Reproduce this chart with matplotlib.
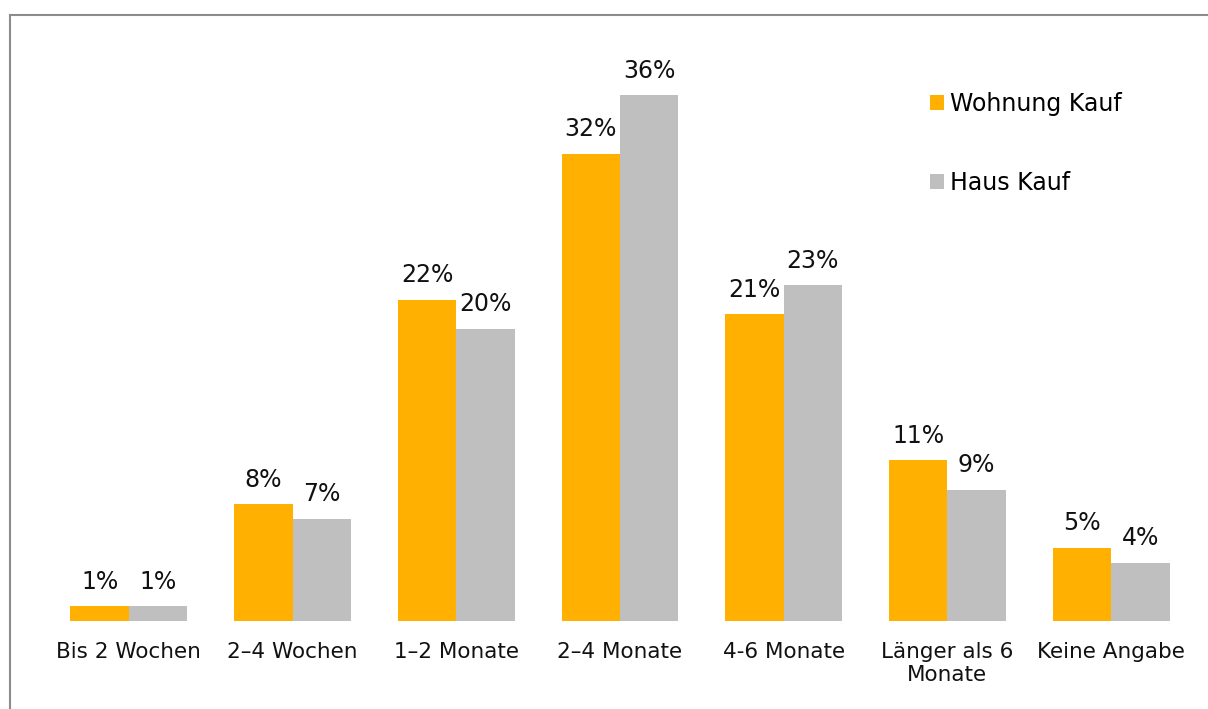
import matplotlib.pyplot as plt
import numpy as np
from matplotlib.patches import Patch
from matplotlib.lines import Line2D

categories = ["Bis 2 Wochen", "2\u20134 Wochen", "1\u20132 Monate", "2\u20134 Monate",
              "4-6 Monate", "L\u00e4nger als 6\nMonate", "Keine Angabe"]
wohnung_kauf = [1, 8, 22, 32, 21, 11, 5]
haus_kauf = [1, 7, 20, 36, 23, 9, 4]
series_names = ["Wohnung Kauf", "Haus Kauf"]

ORANGE = "#FFB000"
GRAY = "#BFBFBF"
FONT = "DejaVu Sans"

fig = plt.figure(figsize=(12.08, 7.09), dpi=100)
W, H = 1208, 709
ax = fig.add_axes([47 / W, (H - 621) / H, 1146 / W, 584 / H])

x = np.arange(len(categories))
bw = 0.357
b1 = ax.bar(x - bw / 2, wohnung_kauf, bw, color=ORANGE, label=series_names[0])
b2 = ax.bar(x + bw / 2, haus_kauf, bw, color=GRAY, label=series_names[1])

for bars, vals in ((b1, wohnung_kauf), (b2, haus_kauf)):
    for rect, v in zip(bars, vals):
        ax.annotate(f"{v}%", (rect.get_x() + rect.get_width() / 2, rect.get_height()),
                    xytext=(0, 9), textcoords="offset points", ha="center", va="bottom",
                    fontsize=17, family=FONT, color="#111111")

ax.set_xlim(-0.5, len(categories) - 0.5)
ax.set_ylim(0, 40)
ax.set_xticks(x)
ax.set_xticklabels(categories, fontsize=15.5, family=FONT, color="#111111")
ax.tick_params(axis="x", length=0, pad=15)
ax.set_yticks([])
for s in ax.spines.values():
    s.set_visible(False)

handles = [Patch(facecolor=ORANGE, edgecolor="none"), Patch(facecolor=GRAY, edgecolor="none")]
ax.legend(handles, series_names, loc="upper left", bbox_to_anchor=(909 / W, 1 - 71 / H),
          bbox_transform=fig.transFigure, frameon=False, handlelength=0.6, handleheight=0.6,
          handletextpad=0.25, labelspacing=2.3, prop={"family": FONT, "size": 17})

# outer frame (top and left edges)
fig.add_artist(Line2D([10 / W, 1], [1 - 15 / H, 1 - 15 / H], transform=fig.transFigure,
                      color="#8C8C8C", linewidth=1.5))
fig.add_artist(Line2D([10 / W, 10 / W], [0, 1 - 15 / H], transform=fig.transFigure,
                      color="#8C8C8C", linewidth=1.5))

fig.savefig("out.png", dpi=100)
